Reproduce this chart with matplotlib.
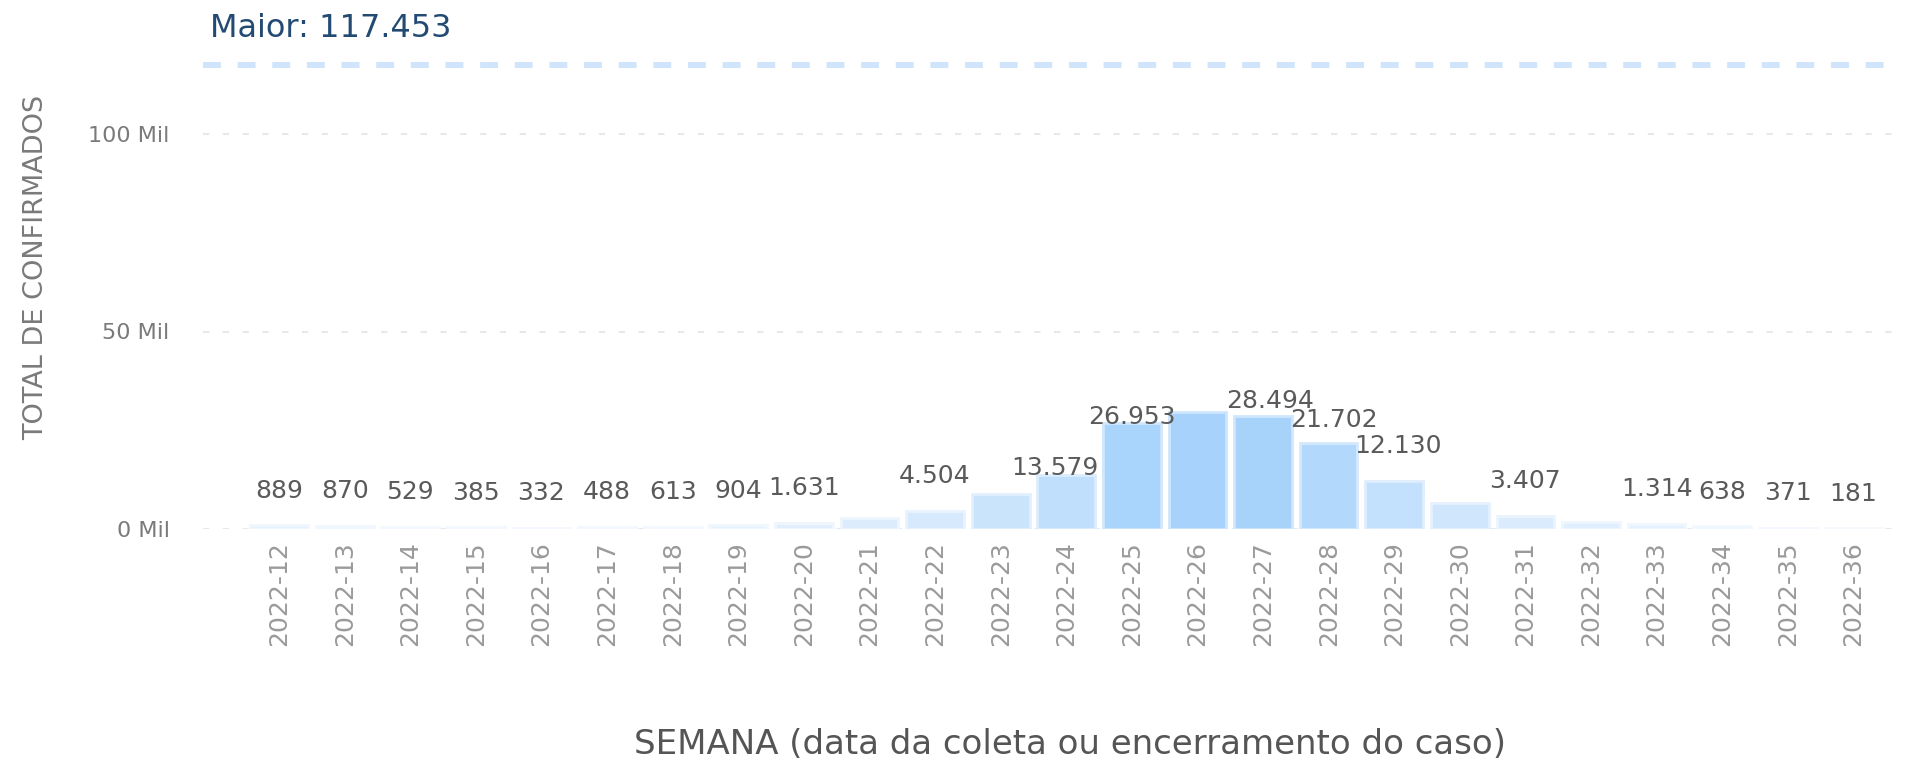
import matplotlib
matplotlib.use("Agg")
import matplotlib.pyplot as plt
from matplotlib.colors import LinearSegmentedColormap, PowerNorm, to_rgb
import numpy as np

# confirmed cases per epidemiological week
semanas = ["2022-12", "2022-13", "2022-14", "2022-15", "2022-16", "2022-17", "2022-18",
           "2022-19", "2022-20", "2022-21", "2022-22", "2022-23", "2022-24", "2022-25",
           "2022-26", "2022-27", "2022-28", "2022-29", "2022-30", "2022-31", "2022-32",
           "2022-33", "2022-34", "2022-35", "2022-36"]
confirmados = [889, 870, 529, 385, 332, 488, 613, 904, 1631, 2700, 4504, 8800, 13579, 26953,
               29600, 28494, 21702, 12130, 6500, 3407, 1800, 1314, 638, 371, 181]
# weeks whose label power bi hid
sem_rotulo = ["2022-21", "2022-23", "2022-26", "2022-30", "2022-32"]
maior = 117453
yticks = [0, 50000, 100000]
ytick_labels = ["0 Mil", "50 Mil", "100 Mil"]

# label nudges (points) where labels were pushed around in the original
nudge = {"2022-24": (-8, 5), "2022-25": (0, 4), "2022-27": (5, 11), "2022-28": (4, 17), "2022-29": (3, 25)}

W, H = 1906, 761
fig = plt.figure(figsize=(W / 100, H / 100), dpi=100)
ax = fig.add_axes([203 / W, 232 / H, (1898 - 203) / W, 474 / H])

x = np.arange(len(semanas))
cmap = LinearSegmentedColormap.from_list("pbi", ["#f0f6fe", "#a6d2fb"])
norm = PowerNorm(gamma=0.55, vmin=0, vmax=max(confirmados))
cores = [cmap(norm(v)) for v in confirmados]
bordas = [tuple(0.55 * np.array(to_rgb(c)) + 0.45) for c in cores]

for xi, v, c, b in zip(x, confirmados, cores, bordas):
    ax.bar(xi, v, width=0.88, color=c, edgecolor=b, linewidth=2, zorder=3)

for s, xi, v in zip(semanas, x, confirmados):
    if s in sem_rotulo:
        continue
    dx, dy = nudge.get(s, (0, 25))
    ax.annotate(f"{v:,}".replace(",", "."), xy=(xi, v), xytext=(dx, dy),
                textcoords="offset points", ha="center", va="center",
                fontsize=18, color="#5a5a5a", zorder=5)

# dotted grid
for yv in yticks:
    ax.axhline(yv, color="#e8e8e8", lw=1.5, ls=(0, (3.0, 6.5)), zorder=1)

# max line
ax.axhline(maior, color="#d0e5fb", lw=4.3, ls=(0, (3.0, 2.8)), zorder=2)
ax.annotate(f"Maior: {maior:,}".replace(",", "."), xy=(0.004, maior),
            xycoords=ax.get_yaxis_transform(), xytext=(0, 26),
            textcoords="offset points", ha="left", va="center",
            fontsize=23, color="#234a73", annotation_clip=False)

ax.set_xlim(-1.16, 24.68)
ax.set_ylim(0, 120000)
ax.set_yticks(yticks)
ax.set_yticklabels(ytick_labels, fontsize=16, color="#7a7a7a")
ax.set_xticks(x)
ax.set_xticklabels(semanas, rotation=90, fontsize=18, color="#9a9a9a")
ax.tick_params(axis="y", length=0, pad=24)
ax.tick_params(axis="x", length=0, pad=9)
for sp in ax.spines.values():
    sp.set_visible(False)

fig.text(36 / W, 1 - 267 / H, "TOTAL DE CONFIRMADOS", rotation=90, ha="center",
         va="center", fontsize=19.5, color="#7a7a7a")
fig.text(1070 / W, 1 - 744 / H, "SEMANA (data da coleta ou encerramento do caso)",
         ha="center", va="center", fontsize=24.5, color="#555555")

fig.savefig("out.png", dpi=100)
